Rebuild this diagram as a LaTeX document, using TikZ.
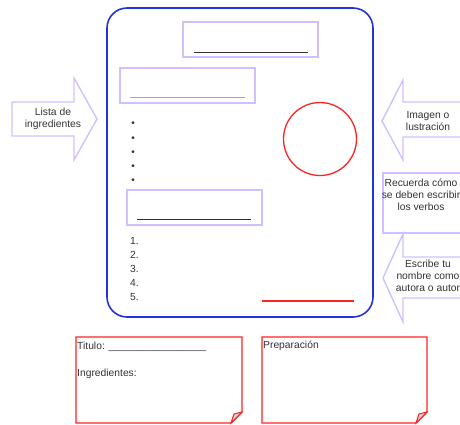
\documentclass[tikz,border=0pt]{standalone}
\usepackage{fontspec}
\setmainfont{Liberation Sans}
\usetikzlibrary{positioning, calc}
\definecolor{cardblue}{HTML}{2233DD}
\definecolor{cardlila}{HTML}{D2BFFF}
\definecolor{cardred}{HTML}{FF2222}
\definecolor{inkgray}{HTML}{333333}

\begin{document}
\begin{tikzpicture}[x=1pt, y=-1pt,
  frame/.style={draw=cardblue, line width=1.6pt, rounded corners=20pt,
                minimum width=266pt, minimum height=309pt, inner sep=0pt},
  slot/.style={draw=cardlila, line width=2pt, minimum width=135pt,
               minimum height=35pt, inner sep=0pt},
  blank/.style={line width=0.9pt},
  callout/.style={draw=cardlila, line width=1.4pt, line join=miter},
  hint/.style={font=\fontsize{10.3}{11.8}\selectfont, text=inkgray,
               align=center, inner sep=0pt},
  item/.style={font=\fontsize{10.3}{11.8}\selectfont, text=inkgray,
               inner sep=0pt},
  sheet/.style={draw=cardred, line width=1.4pt, line join=miter}
]
  \useasboundingbox (0,0) rectangle (460,424);
  \clip (0,0) rectangle (460,424);

  \node[frame] (hoja) at (240,162.5) {};

  \node[slot] (titulo) at (250.5,39.5) {};
  \draw[blank, inkgray] ([xshift=12pt, yshift=6pt]titulo.south west)
    -- ([xshift=-11pt, yshift=6pt]titulo.south east);
  \node[slot] (lista) at (187.5,85.5) {};
  \draw[blank, gray!70] ([xshift=11pt, yshift=7pt]lista.south west)
    -- ([xshift=-11pt, yshift=7pt]lista.south east);
  \node[slot] (pasos) at (194.5,207) {};
  \draw[blank, inkgray!90!black] ([xshift=11pt, yshift=6pt]pasos.south west)
    -- ([xshift=-12pt, yshift=6pt]pasos.south east);

  \foreach \i/\y in {1/124,2/139,3/153,4/167,5/181}
    \node[item, font=\fontsize{10}{11}\selectfont] (vineta\i) at (133,\y) {\textbullet};
  \foreach \i/\y in {1/241,2/255,3/269,4/283,5/297}
    \node[item, anchor=west] (paso\i) at (130,\y) {\i.};

  \node[draw=cardred, circle, line width=1.3pt, minimum size=73pt,
        inner sep=0pt] (imagen) at (320,139) {};
  \coordinate (firmaA) at (262,301);
  \coordinate (firmaB) at (354,301);
  \draw[cardred, line width=1.4pt] (firmaA) -- (firmaB);

  \draw[callout] (12,102) -- (74,102) -- (74,78) -- (97,119) -- (74,160)
    -- (74,136) -- (12,136) -- cycle;
  \node[hint] (ingr) at (53,119) {Lista de\\ingredientes};

  \draw[callout] (470,102) -- (403,102) -- (403,80) -- (382,121)
    -- (403,160) -- (403,137) -- (470,137);
  \node[hint] (ilus) at (428,121) {Imagen o\\lustración};

  \draw[callout] (470,173) -- (383,173) -- (383,233) -- (470,233);
  \node[hint] (verbos) at (421,195) {Recuerda cómo\\se deben escribir\\los verbos};

  \draw[callout] (470,257) -- (403,257) -- (403,234) -- (383,278)
    -- (403,322) -- (403,298) -- (470,298);
  \node[hint] (autor) at (428,276) {Escribe tu\\nombre como\\autora o autor};

  \draw[sheet] (76,337) -- (242,337) -- (242,412) -- (231,423)
    -- (76,423) -- cycle;
  \draw[sheet, fill=gray!35, line width=1pt] (242,412) -- (234,414)
    -- (231,423) -- cycle;
  \node[item, anchor=west] (tituloTxt) at (77,347)
    {Titulo: \_\_\_\_\_\_\_\_\_\_\_\_\_\_\_\_\_};
  \node[item, anchor=west] (ingrTxt) at (77,374) {Ingredientes:};

  \draw[sheet] (262,337) -- (427,337) -- (427,412) -- (416,423)
    -- (262,423) -- cycle;
  \draw[sheet, fill=gray!35, line width=1pt] (427,412) -- (419,414)
    -- (416,423) -- cycle;
  \node[item, anchor=west] (prepTxt) at (263,346) {Preparación};
\end{tikzpicture}
\end{document}
